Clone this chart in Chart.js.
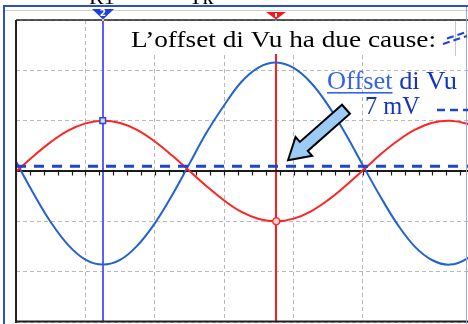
<!DOCTYPE html>
<html>
<head>
<meta charset="utf-8">
<script src="https://cdn.jsdelivr.net/npm/chart.js@4/dist/chart.umd.min.js"></script>
<style>
  html, body { margin: 0; padding: 0; background: #fff; overflow: hidden; }
  canvas { display: block; }
</style>
</head>
<body>
<canvas id="scope" width="468" height="324"></canvas>
<script>
// Time base 0.2 ms/div, vertical 75 mV/div; the screen shows 0 … 1.3026 ms.
const timeMs = [0, 0.05, 0.1, 0.15, 0.2, 0.25, 0.3, 0.35, 0.4, 0.45, 0.5, 0.55, 0.6, 0.65,
                0.7, 0.75, 0.8, 0.85, 0.9, 0.95, 1.0, 1.05, 1.1, 1.15, 1.2, 1.25, 1.3, 1.35];
// Input signal (red trace), mV
const vinMv = [-1, 22, 43, 60, 71, 75, 71.5, 61, 44, 23, 0, -23, -44, -61,
               -71.5, -75, -71, -60, -43, -22, 1, 24.5, 45, 61.5, 72, 75, 70.5, 59];
// Output Vu (blue trace), mV
const vuMv = [14, -33, -76, -110, -132, -139.5, -132.5, -111, -78, -36, 11, 58, 98, 133,
              154.5, 161.5, 153.5, 131.5, 97.5, 55, 8, -38, -80, -113, -133, -139.5, -130.5, -108];
// DC offset of Vu, mV
const offsetMv = 7;
// Cursors: "2" (blue) and "T" (red), ms
const cursorMs = [0.25, 0.75];
const cursorLineColors = ['#5c5cff', '#ff1c1c'];
// Measurement markers sitting on the red trace
const markerBlue = [{ t: 0.25, mv: 75 }];
const markerRed = [{ t: 0.75, mv: -75 }];
// Callout arrow pointing at the offset line (ms, mV)
const arrowFrom = { t: 0.951, mv: 92 };
const arrowTo = { t: 0.784, mv: 16 };

const X_MAX = 1.3026;
const SERIF = '"Liberation Serif", "Times New Roman", serif';
const pts = (xs, ys) => xs.map((x, i) => ({ x, y: ys[i] }));

function fitText(ctx, str, x, base, width, px, color) {
  ctx.save();
  ctx.font = px + 'px ' + SERIF;
  ctx.textAlign = 'left';
  ctx.textBaseline = 'alphabetic';
  const w = ctx.measureText(str).width;
  ctx.translate(x, base);
  ctx.scale(width / w, 1);
  ctx.fillStyle = color;
  ctx.fillText(str, 0, 0);
  ctx.restore();
}

function seg(ctx, x1, y1, x2, y2) {
  ctx.beginPath(); ctx.moveTo(x1, y1); ctx.lineTo(x2, y2); ctx.stroke();
}

const scopeDecor = {
  id: 'scopeDecor',
  beforeDatasetsDraw(chart) {
    const { ctx, chartArea: a, scales: { x, y } } = chart;
    ctx.save();
    // cursor lines
    cursorMs.forEach((t, i) => {
      const px = Math.round(x.getPixelForValue(t));
      ctx.strokeStyle = cursorLineColors[i];
      ctx.lineWidth = 2;
      seg(ctx, px, 19, px, a.bottom);
    });
    // centre axis with minor divisions (5 per division)
    const y0 = Math.round(y.getPixelForValue(0));
    ctx.strokeStyle = '#1a1a1a';
    ctx.lineWidth = 2;
    seg(ctx, a.left, y0, a.right, y0);
    ctx.lineWidth = 1.2;
    for (let k = 0; k * 0.04 <= X_MAX; k++) {
      const px = Math.round(x.getPixelForValue(k * 0.04)) + 0.5;
      seg(ctx, px, y0, px, y0 + 4.5);
    }
    ctx.restore();
  },
  afterDatasetsDraw(chart) {
    const { ctx, chartArea: a, scales: { x, y } } = chart;
    ctx.save();

    // graticule frame
    ctx.strokeStyle = '#202020';
    ctx.lineWidth = 2;
    seg(ctx, a.left, a.top, a.left, a.bottom + 1);
    seg(ctx, a.left, a.bottom - 0.5, a.right, a.bottom - 0.5);
    ctx.lineWidth = 1.5;
    seg(ctx, a.left, a.top, a.right, a.top);

    // outer window border
    ctx.strokeStyle = '#2b4fc4';
    ctx.lineWidth = 2;
    seg(ctx, 3, 6, 468, 6);
    seg(ctx, 4, 5, 4, 324);
    ctx.strokeStyle = '#cfcfcf';
    ctx.lineWidth = 1;
    seg(ctx, 5, 10.5, 468, 10.5);
    ctx.strokeStyle = '#9aa6e6';
    seg(ctx, 466.5, 7, 466.5, 324);

    // cursor flags
    const bx = Math.round(x.getPixelForValue(cursorMs[0]));
    ctx.fillStyle = '#1f3fe6';
    ctx.beginPath(); ctx.moveTo(bx - 11, 9); ctx.lineTo(bx + 11, 9); ctx.lineTo(bx, 19.5); ctx.closePath(); ctx.fill();
    ctx.fillStyle = '#ffffff';
    ctx.font = 'bold 9px "DejaVu Sans", sans-serif';
    ctx.textAlign = 'center'; ctx.textBaseline = 'middle';
    ctx.fillText('2', bx, 13.5);
    ctx.fillStyle = '#ffd200';
    ctx.fillRect(bx - 1, 19, 2, 2);
    const rx = Math.round(x.getPixelForValue(cursorMs[1]));
    ctx.fillStyle = '#ff1414';
    ctx.beginPath(); ctx.moveTo(rx - 10, 12); ctx.lineTo(rx + 10, 12); ctx.lineTo(rx, 19.5); ctx.closePath(); ctx.fill();
    ctx.fillStyle = '#ffffff';
    ctx.fillRect(rx - 1, 13, 2, 4);
    ctx.fillStyle = '#20c0c0';
    ctx.fillRect(rx - 1, 19.5, 2, 1.5);
    ctx.textAlign = 'left'; ctx.textBaseline = 'alphabetic';

    // title box
    ctx.fillStyle = '#ffffff';
    ctx.fillRect(124, 21, 331, 33);
    ctx.strokeStyle = '#c8c8c8';
    ctx.lineWidth = 1;
    seg(ctx, 455.5, 21, 455.5, 56);
    fitText(ctx, 'L\u2019offset di Vu ha due cause:', 131, 47, 305, 23, '#000000');

    // dashed hint at the right of the title
    ctx.strokeStyle = '#1d45d0';
    ctx.lineWidth = 2;
    ctx.setLineDash([7, 4]);
    seg(ctx, 443, 44, 467, 36);
    seg(ctx, 447, 38.5, 468, 31.5);
    ctx.setLineDash([]);

    // offset label
    ctx.save();
    ctx.font = '26px ' + SERIF;
    ctx.textAlign = 'left'; ctx.textBaseline = 'alphabetic';
    const wOff = ctx.measureText('Offset').width;
    const wAll = ctx.measureText('Offset di Vu').width;
    ctx.translate(327, 89);
    ctx.scale(130 / wAll, 1);
    ctx.fillStyle = '#3563ee';
    ctx.fillText('Offset', 0, 0);
    ctx.fillRect(0, 3, wOff, 1.6);
    ctx.fillStyle = '#1433c4';
    ctx.fillText(' di Vu', wOff, 0);
    ctx.restore();
    fitText(ctx, '7 mV', 365, 114, 55, 25, '#1433c4');
    ctx.strokeStyle = '#1d45d0';
    ctx.lineWidth = 2.5;
    ctx.setLineDash([8, 5]);
    seg(ctx, 437, 110, 468, 110);
    ctx.setLineDash([]);

    // callout arrow
    const tx = x.getPixelForValue(arrowTo.t), ty = y.getPixelForValue(arrowTo.mv);
    const fx = x.getPixelForValue(arrowFrom.t), fy = y.getPixelForValue(arrowFrom.mv);
    const L = Math.hypot(fx - tx, fy - ty);
    const ux = (fx - tx) / L, uy = (fy - ty) / L;
    const nx = -uy, ny = ux;
    const hl = 21, hw = 12.5, sw = 6;
    const hbx = tx + hl * ux, hby = ty + hl * uy;
    ctx.beginPath();
    ctx.moveTo(tx, ty);
    ctx.lineTo(hbx + hw * nx, hby + hw * ny);
    ctx.lineTo(hbx + sw * nx, hby + sw * ny);
    ctx.lineTo(fx + sw * nx, fy + sw * ny);
    ctx.lineTo(fx - sw * nx, fy - sw * ny);
    ctx.lineTo(hbx - sw * nx, hby - sw * ny);
    ctx.lineTo(hbx - hw * nx, hby - hw * ny);
    ctx.closePath();
    ctx.fillStyle = '#9ccbf6';
    ctx.fill();
    ctx.strokeStyle = '#000000';
    ctx.lineWidth = 2;
    ctx.lineJoin = 'miter';
    ctx.stroke();

    // header labels (partly above the window)
    ctx.fillStyle = '#000000';
    ctx.font = '22px ' + SERIF;
    ctx.fillText('R1', 89, 4);
    ctx.fillText('Tk', 189, 4);

    ctx.restore();
  }
};

new Chart(document.getElementById('scope'), {
  type: 'line',
  data: {
    datasets: [
      {
        label: 'Offset',
        data: [{ x: 0, y: offsetMv }, { x: X_MAX, y: offsetMv }],
        borderColor: '#1d45d0', borderWidth: 3, borderDash: [10, 8],
        borderCapStyle: 'butt', pointRadius: 0, tension: 0
      },
      {
        label: 'Marker 2',
        data: markerBlue.map(m => ({ x: m.t, y: m.mv })),
        showLine: false, pointStyle: 'rect', pointRadius: 4,
        pointBorderColor: '#2a44e6', pointBackgroundColor: '#d8dcff', pointBorderWidth: 1.5
      },
      {
        label: 'Marker T',
        data: markerRed.map(m => ({ x: m.t, y: m.mv })),
        showLine: false, pointStyle: 'circle', pointRadius: 3.5,
        pointBorderColor: '#ff2a2a', pointBackgroundColor: '#ffd6d6', pointBorderWidth: 1.5
      },
      {
        label: 'Vi',
        data: pts(timeMs, vinMv),
        borderColor: '#ff2424', borderWidth: 2, pointRadius: 0, tension: 0.4
      },
      {
        label: 'Vu',
        data: pts(timeMs, vuMv),
        borderColor: '#2262d2', borderWidth: 2, pointRadius: 0, tension: 0.4
      }
    ]
  },
  options: {
    responsive: false,
    animation: false,
    devicePixelRatio: 1,
    layout: { autoPadding: false, padding: { left: 16, right: 0, top: 20, bottom: 2 } },
    plugins: { legend: { display: false }, tooltip: { enabled: false } },
    scales: {
      x: {
        type: 'linear', min: 0, max: X_MAX,
        ticks: { display: false, stepSize: 0.2 },
        grid: { color: '#b9b9b9', lineWidth: 1, drawTicks: false },
        border: { display: false, dash: [4, 3] },
        afterFit: s => { s.height = 0; }
      },
      y: {
        type: 'linear', min: -225, max: 225,
        ticks: { display: false, stepSize: 75 },
        grid: { color: '#b9b9b9', lineWidth: 1, drawTicks: false },
        border: { display: false, dash: [4, 3] },
        afterFit: s => { s.width = 0; }
      }
    }
  },
  plugins: [scopeDecor]
});
</script>
</body>
</html>
